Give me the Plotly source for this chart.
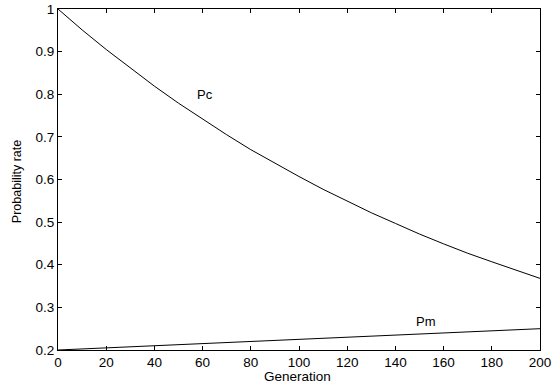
import plotly.graph_objects as go

generation = [0, 10, 20, 30, 40, 50, 60, 70, 80, 90, 100, 110, 120, 130, 140, 150, 160, 170, 180, 190, 200]
pc = [1.000, 0.951, 0.905, 0.861, 0.819, 0.779, 0.741, 0.705, 0.670, 0.638, 0.607,
      0.577, 0.549, 0.522, 0.497, 0.472, 0.449, 0.427, 0.407, 0.387, 0.368]
pm = [0.2000, 0.2025, 0.2050, 0.2075, 0.2100, 0.2125, 0.2150, 0.2175, 0.2200, 0.2225, 0.2250,
      0.2275, 0.2300, 0.2325, 0.2350, 0.2375, 0.2400, 0.2425, 0.2450, 0.2475, 0.2500]
x_ticks = [0, 20, 40, 60, 80, 100, 120, 140, 160, 180, 200]
y_ticks = [0.2, 0.3, 0.4, 0.5, 0.6, 0.7, 0.8, 0.9, 1.0]
y_tick_text = ["0.2", "0.3", "0.4", "0.5", "0.6", "0.7", "0.8", "0.9", "1"]

font = "Liberation Sans, Arial, Helvetica, sans-serif"

fig = go.Figure()
fig.add_trace(go.Scatter(x=generation, y=pc, mode="lines", line=dict(color="black", width=1), name="Pc"))
fig.add_trace(go.Scatter(x=generation, y=pm, mode="lines", line=dict(color="black", width=1), name="Pm"))

fig.add_annotation(x=60.9, y=0.799, text="Pc", showarrow=False, font=dict(family=font, size=13, color="black"))
fig.add_annotation(x=152.6, y=0.267, text="Pm", showarrow=False, font=dict(family=font, size=13, color="black"))

# axis titles as paper-positioned annotations
fig.add_annotation(x=0.496, y=-0.079, xref="paper", yref="paper", text="Generation", showarrow=False,
                   xanchor="center", yanchor="middle", font=dict(family=font, size=13.5, color="black"))
fig.add_annotation(x=-0.0859, y=0.494, xref="paper", yref="paper", text="Probability rate", showarrow=False,
                   textangle=-90, xanchor="center", yanchor="middle", font=dict(family=font, size=12.5, color="black"))

axis_common = dict(showline=True, linecolor="black", linewidth=1, mirror="ticks", ticks="inside",
                   ticklen=4, tickcolor="black", showgrid=False, zeroline=False, automargin=False,
                   tickfont=dict(family=font, size=13.5, color="black"))

fig.update_layout(
    width=552, height=390,
    margin=dict(l=57.5, r=11.5, t=9, b=40),
    paper_bgcolor="white", plot_bgcolor="white",
    showlegend=False,
    xaxis=dict(range=[0, 200], tickvals=x_ticks, **axis_common),
    yaxis=dict(range=[0.2, 1.0], tickvals=y_ticks, ticktext=y_tick_text, **axis_common),
)

fig.write_html("out.html")
